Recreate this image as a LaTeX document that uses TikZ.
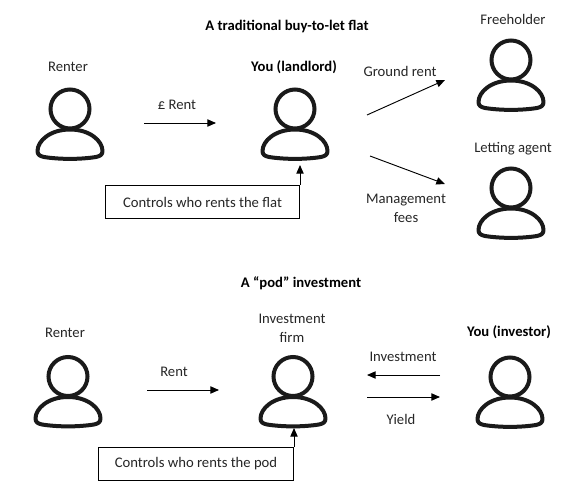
\documentclass[tikz,border=0pt]{standalone}
\usepackage{fontspec}
\setmainfont{Carlito}
\usetikzlibrary{arrows.meta,positioning,calc}
\definecolor{icondark}{HTML}{1A1A1A}
\tikzset{
  lbl/.style={align=center, font=\fontsize{11}{14.25}\selectfont, inner sep=0pt, text=black!85},
  hdr/.style={align=center, font=\fontsize{11}{14}\selectfont\bfseries, inner sep=0pt},
  notebox/.style={rectangle, draw=black, line width=0.75pt, fill=white, align=center,
                  font=\fontsize{11}{14}\selectfont, text=black!85, inner sep=0pt},
  ar/.style={-{Stealth[length=6.5pt,width=5.5pt,inset=0pt]}, draw=black, line width=0.7pt},
  person/.pic={
    \draw[icondark,line width=3pt] (0,0) circle (19.5);
    \draw[icondark,line width=3pt,line join=round,fill=white]
      (0,20.5) .. controls (20,20.5) and (32.5,32) .. (32.5,42)
      .. controls (32.5,46) and (30,47) .. (26,48)
      .. controls (10,50.5) and (-10,50.5) .. (-26,48)
      .. controls (-30,47) and (-32.5,46) .. (-32.5,42)
      .. controls (-32.5,32) and (-20,20.5) .. (0,20.5) -- cycle;
  },
}
\begin{document}
\begin{tikzpicture}[x=0.75pt,y=-0.75pt]
\useasboundingbox (0,0) rectangle (578,495);

% ---------- top: buy-to-let ----------
\node[hdr] (title1) at (287,27) {A traditional buy-to-let flat};
\node[lbl] (renter1) at (68,67) {Renter};
\node[hdr] (you1) at (294,67) {You (landlord)};
\node[lbl] (free) at (513,19) {Freeholder};
\node[lbl] (agent) at (513,149) {Letting agent};
\pic (p1) at (70,109) {person};
\pic (p2) at (295,109) {person};
\pic (p3) at (511,60) {person};
\pic (p4) at (511,188) {person};

\node[lbl] (rent1) at (177,105) {£ Rent};
\node[lbl] (ground) at (400,71) {Ground rent};
\node[lbl] (mgmt) at (406,208.5) {Management\\fees};
\coordinate (a1) at (144,123); \coordinate (a2) at (216,123);
\coordinate (b1) at (367,115); \coordinate (b2) at (445,80);
\coordinate (c1) at (370,156); \coordinate (c2) at (445,184);
\draw[ar] (a1)--(a2);
\draw[ar] (b1)--(b2);
\draw[ar] (c1)--(c2);

\node[notebox,anchor=north west,minimum width=145.5pt,minimum height=24.75pt]
   (box1) at (105,185) {Controls who rents the flat};
\coordinate (d2) at (box1.north east |- 0,165);
\draw[ar] (box1.north east)--(d2);

% ---------- bottom: pod ----------
\node[hdr] (title2) at (301,283) {A “pod” investment};
\node[lbl] (renter2) at (65,333) {Renter};
\node[lbl] (firm) at (292,328.5) {Investment\\firm};
\node[hdr] (you2) at (509,332) {You (investor)};
\pic (p5) at (68,376.5) {person};
\pic (p6) at (293,376.5) {person};
\pic (p7) at (510,377) {person};

\node[lbl] (rent2) at (174,372) {Rent};
\node[lbl] (inv) at (403,356.5) {Investment};
\node[lbl] (yield) at (401,419.5) {Yield};
\coordinate (e1) at (147,390); \coordinate (e2) at (219,390);
\coordinate (f1) at (440,375); \coordinate (f2) at (367,375);
\coordinate (g1) at (367,397); \coordinate (g2) at (440,397);
\draw[ar] (e1)--(e2);
\draw[ar] (f1)--(f2);
\draw[ar] (g1)--(g2);

\node[notebox,anchor=north west,minimum width=146.25pt,minimum height=24.75pt]
   (box2) at (98,447) {Controls who rents the pod};
\coordinate (h2) at (box2.north east |- 0,428);
\draw[ar] (box2.north east)--(h2);
\end{tikzpicture}
\end{document}
